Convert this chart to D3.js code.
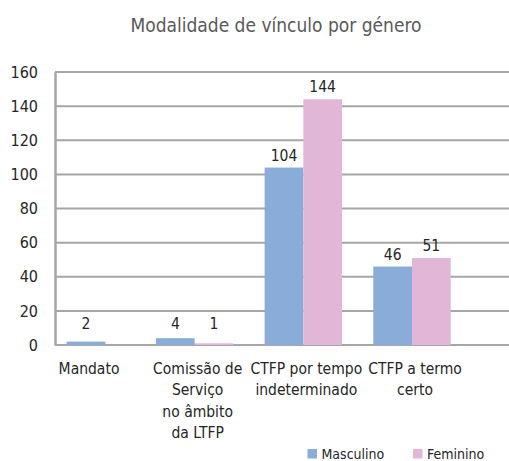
<!DOCTYPE html>
<html>
<head>
<meta charset="utf-8">
<script src="https://cdn.jsdelivr.net/npm/d3@7"></script>
<style>
  body { margin: 0; background: #fff; }
  svg text { font-family: "DejaVu Sans Condensed", "DejaVu Sans", sans-serif; }
</style>
</head>
<body>
<div id="chart"></div>
<script>
//Data
var categories = [
  ["Mandato"],
  ["Comissão de", "Serviço", "no âmbito", "da LTFP"],
  ["CTFP por tempo", "indeterminado"],
  ["CTFP a termo", "certo"]
];
var seriesNames = ["Masculino", "Feminino"];
var masculino = [2, 4, 104, 46];
var feminino = [null, 1, 144, 51];
var yTicks = [0, 20, 40, 60, 80, 100, 120, 140, 160];

var colors = d3.scaleOrdinal()
  .domain(seriesNames)
  .range(["#8aacd9", "#e2b6d6"]);

//Sizes
var width = 509, height = 461;
var margin = { top: 72, bottom: 116, left: 55, right: 0 };

var svg = d3.select("#chart").append("svg")
  .attr("width", width)
  .attr("height", height);

var y = d3.scaleLinear()
  .domain([0, 160])
  .range([height - margin.bottom, margin.top]);

var x = d3.scalePoint()
  .domain(d3.range(categories.length))
  .range([86, 412]);

var barW = 38.7;
var xSub = d3.scaleBand()
  .domain(seriesNames)
  .range([-barW, barW]);

//Title
svg.append("text")
  .attr("x", 276)
  .attr("y", 32)
  .attr("text-anchor", "middle")
  .attr("font-size", 19)
  .attr("fill", "#595959")
  .text("Modalidade de vínculo por género");

//Gridlines
svg.append("g").selectAll("line")
  .data(yTicks)
  .enter().append("line")
  .attr("x1", margin.left)
  .attr("x2", width)
  .attr("y1", d => y(d))
  .attr("y2", d => y(d))
  .attr("stroke", "#a6a6a6")
  .attr("stroke-width", 2);

//Y axis
var yAxis = svg.append("g")
  .attr("transform", "translate(" + margin.left + ",0)")
  .call(d3.axisLeft(y).tickValues(yTicks).tickSize(0).tickPadding(17));
yAxis.select(".domain").attr("stroke", "#a6a6a6").attr("stroke-width", 2.5);
yAxis.selectAll("text")
  .attr("font-size", 16)
  .attr("fill", "#262626")
  .style("font-family", "DejaVu Sans Condensed");

//Bars
var rows = [];
categories.forEach(function(c, i) {
  var vals = [masculino[i], feminino[i]];
  var present = seriesNames.filter((s, j) => vals[j] != null);
  seriesNames.forEach(function(s, j) {
    if (vals[j] == null) return;
    var cx = present.length == 1 ? x(i) - barW / 2 : x(i) + xSub(s);
    rows.push({ series: s, value: vals[j], x: cx });
  });
});

svg.append("g").selectAll("rect")
  .data(rows)
  .enter().append("rect")
  .attr("x", d => d.x)
  .attr("width", barW)
  .attr("y", d => y(d.value))
  .attr("height", d => y(0) - y(d.value))
  .attr("fill", d => colors(d.series));

//Value labels
svg.append("g").selectAll("text")
  .data(rows)
  .enter().append("text")
  .attr("x", d => d.x + barW / 2)
  .attr("y", d => Math.min(y(d.value) - 7, y(0) - 16))
  .attr("text-anchor", "middle")
  .attr("font-size", 15.5)
  .attr("fill", "#262626")
  .text(d => d.value);

//Category labels
var catLabels = svg.append("g").selectAll("text")
  .data(categories)
  .enter().append("text")
  .attr("text-anchor", "middle")
  .attr("font-size", 15.5)
  .attr("fill", "#262626")
  .attr("transform", (d, i) => "translate(" + (x(i) + 3) + "," + 374 + ")");
catLabels.selectAll("tspan")
  .data(d => d)
  .enter().append("tspan")
  .attr("x", 0)
  .attr("dy", (d, i) => i == 0 ? 0 : 21.3)
  .text(d => d);

//Legend
var legend = svg.append("g").selectAll("g")
  .data(seriesNames)
  .enter().append("g")
  .attr("transform", (d, i) => "translate(" + (307.5 + i * 105.5) + ",449)");
legend.append("rect")
  .attr("width", 9.5)
  .attr("height", 9.5)
  .attr("fill", d => colors(d));
legend.append("text")
  .attr("x", 14)
  .attr("y", 9.5)
  .attr("font-size", 14)
  .attr("fill", "#262626")
  .text(d => d);
</script>
</body>
</html>
